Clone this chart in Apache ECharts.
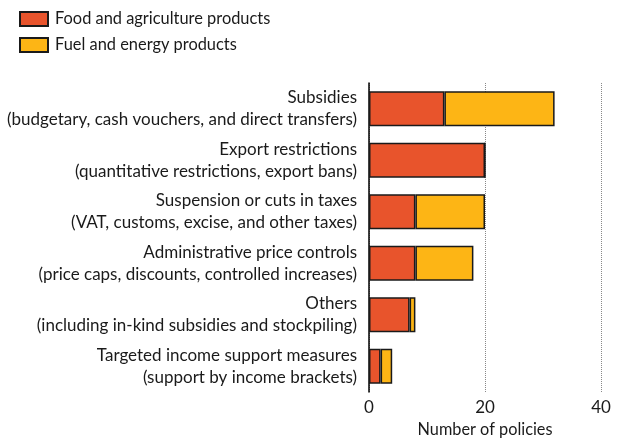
<!DOCTYPE html>
<html><head><meta charset="utf-8">
<script src="https://cdn.jsdelivr.net/npm/echarts@6/dist/echarts.min.js"></script>
<style>html,body{margin:0;padding:0;background:#fff}#c{width:619px;height:438px}</style>
</head><body><div id="c"></div>
<script>
const categories = [
  "Subsidies\n(budgetary, cash vouchers, and direct transfers)",
  "Export restrictions\n(quantitative restrictions, export bans)",
  "Suspension or cuts in taxes\n(VAT, customs, excise, and other taxes)",
  "Administrative price controls\n(price caps, discounts, controlled increases)",
  "Others\n(including in-kind subsidies and stockpiling)",
  "Targeted income support measures\n(support by income brackets)"
];
const foodValues = [13, 20, 8, 8, 7, 2];
const fuelValues = [19, 0, 12, 10, 1, 2];
const seriesNames = ["Food and agriculture products", "Fuel and energy products"];
const xTicks = [0, 20, 40];

const font = "Lato";
const chart = echarts.init(document.getElementById('c'), null, {renderer: 'canvas'});
chart.setOption({
  animation: false,
  textStyle: {fontFamily: font, color: '#1a1a1a'},
  legend: {
    orient: 'vertical', left: 14, top: 6,
    itemWidth: 28, itemHeight: 14, itemGap: 10,
    icon: 'rect',
    textStyle: {fontFamily: font, fontSize: 16.4, color: '#1a1a1a', padding: [0,0,0,2]},
    data: seriesNames
  },
  grid: {left: 369, right: 18, top: 83, bottom: 46, containLabel: false, outerBoundsMode: 'none'},
  xAxis: {
    type: 'value', min: xTicks[0], max: xTicks[xTicks.length-1], interval: 20,
    name: 'Number of policies', nameLocation: 'middle', nameGap: 30,
    nameTextStyle: {fontFamily: font, fontSize: 16.3, color: '#1a1a1a'},
    axisLine: {show: false}, axisTick: {show: false},
    axisLabel: {fontFamily: font, fontSize: 17, color: '#1a1a1a', margin: 7},
    splitLine: {show: true, lineStyle: {type: 'dotted', color: '#888', width: 1}}
  },
  yAxis: {
    type: 'category', data: categories, inverse: true,
    axisLine: {show: true, lineStyle: {color: '#000', width: 1.5}},
    axisTick: {show: false},
    axisLabel: {fontFamily: font, fontSize: 17, color: '#1a1a1a', lineHeight: 22, align: 'right', margin: 12, padding: [4,0,0,0]}
  },
  series: [
    {name: seriesNames[0], type: 'bar', stack: 'a', data: foodValues, barWidth: 35,
     itemStyle: {color: '#E8542C', borderColor: '#1a1a1a', borderWidth: 1.5}},
    {name: seriesNames[1], type: 'bar', stack: 'a', data: fuelValues, barWidth: 35,
     itemStyle: {color: '#FDB515', borderColor: '#1a1a1a', borderWidth: 1.5}}
  ]
});
</script></body></html>
